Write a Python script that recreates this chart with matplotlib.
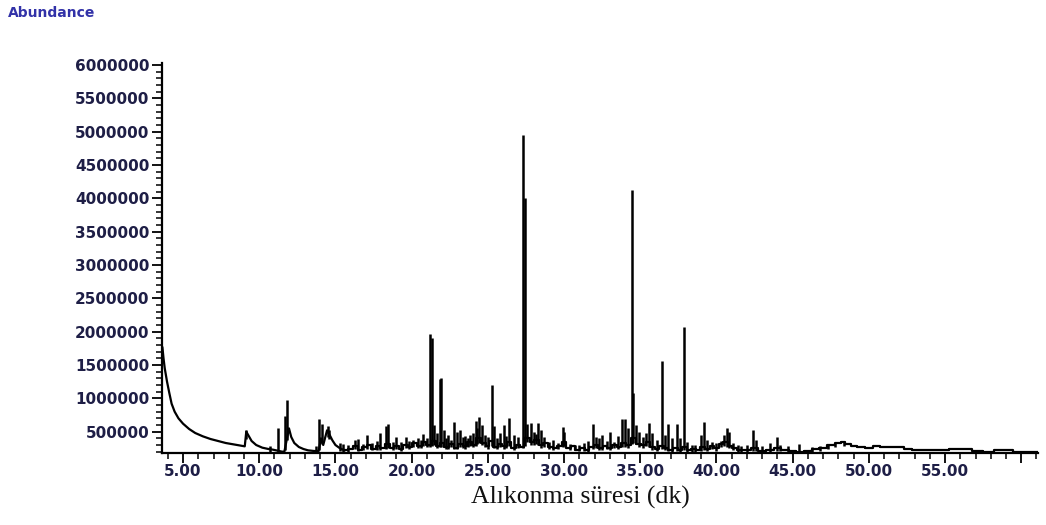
import numpy as np
import matplotlib
matplotlib.use("Agg")
import matplotlib.pyplot as plt
from matplotlib.ticker import MultipleLocator, FuncFormatter

# Background trace of the total ion chromatogram (retention time in min, abundance in millions)
base_t = [3.65, 3.72, 3.80, 3.95, 4.10, 4.25, 4.45, 4.70, 5.00, 5.40, 5.80, 6.30, 6.80,
          7.30, 7.80, 8.30, 8.80, 9.05, 9.15, 9.30, 9.50, 9.80, 10.20, 10.60, 10.90,
          11.10, 11.50, 11.65, 11.95, 12.10, 12.30, 12.60, 12.90, 13.20, 13.60, 13.90,
          14.05, 14.20, 14.45, 14.60, 14.80, 15.00, 15.30, 15.60, 16.00, 16.30, 16.60,
          16.90, 17.20, 17.50, 17.80, 18.10, 18.40, 18.70, 19.00, 19.30, 19.60, 19.90,
          20.20, 20.50, 20.80, 21.10, 21.50, 21.70, 22.00, 22.30, 22.60, 22.90, 23.20,
          23.50, 23.80, 24.10, 24.40, 24.70, 25.00, 25.20, 25.50, 25.80, 26.10, 26.40,
          26.70, 27.00, 27.20, 27.60, 27.90, 28.20, 28.50, 28.80, 29.10, 29.40, 29.70,
          30.00, 30.30, 30.60, 30.90, 31.20, 31.50, 31.80, 32.10, 32.40, 32.70, 33.00,
          33.30, 33.60, 33.90, 34.20, 34.60, 34.90, 35.20, 35.50, 35.80, 36.10, 36.40,
          36.70, 37.00, 37.30, 37.60, 37.90, 38.20, 38.50, 38.80, 39.10, 39.40, 39.70,
          40.00, 40.30, 40.60, 40.90, 41.20, 41.50, 42.00, 42.50, 43.00, 43.50, 44.00,
          44.50, 45.00, 45.50, 46.00, 46.50, 47.00, 47.50, 48.00, 48.30, 48.60, 49.00,
          49.50, 50.00, 50.50, 51.00, 52.00, 52.60, 53.00, 54.00, 55.00, 55.50, 56.50,
          57.00, 58.00, 58.40, 59.30, 59.60, 61.10]
base_y = [1.76, 1.60, 1.45, 1.25, 1.08, 0.92, 0.80, 0.70, 0.62, 0.54, 0.48, 0.43, 0.39,
          0.36, 0.33, 0.31, 0.29, 0.28, 0.50, 0.44, 0.36, 0.30, 0.26, 0.24, 0.23,
          0.22, 0.20, 0.20, 0.55, 0.42, 0.33, 0.27, 0.24, 0.22, 0.21, 0.21,
          0.40, 0.30, 0.52, 0.46, 0.37, 0.30, 0.25, 0.22, 0.24, 0.28, 0.23,
          0.27, 0.30, 0.24, 0.28, 0.25, 0.31, 0.26, 0.29, 0.24, 0.30, 0.27,
          0.33, 0.28, 0.34, 0.30, 0.36, 0.29, 0.33, 0.27, 0.31, 0.26, 0.32,
          0.28, 0.34, 0.30, 0.40, 0.33, 0.29, 0.36, 0.27, 0.32, 0.28, 0.34,
          0.26, 0.30, 0.27, 0.40, 0.34, 0.38, 0.30, 0.33, 0.27, 0.25, 0.29,
          0.34, 0.25, 0.28, 0.23, 0.26, 0.22, 0.27, 0.30, 0.25, 0.29, 0.26,
          0.30, 0.27, 0.33, 0.30, 0.40, 0.32, 0.30, 0.35, 0.27, 0.24, 0.28,
          0.25, 0.22, 0.26, 0.23, 0.27, 0.22, 0.24, 0.22, 0.27, 0.24, 0.29,
          0.25, 0.31, 0.34, 0.29, 0.25, 0.22, 0.23, 0.25, 0.21, 0.23, 0.25,
          0.23, 0.21, 0.20, 0.21, 0.24, 0.26, 0.30, 0.33, 0.35, 0.31, 0.29,
          0.27, 0.26, 0.28, 0.27, 0.27, 0.24, 0.23, 0.22, 0.22, 0.24, 0.24,
          0.21, 0.20, 0.22, 0.22, 0.19, 0.19]

# Individual peaks: apex retention time (min) and apex abundance (millions)
peak_t = [9.13, 10.70, 11.20, 11.70, 11.85, 13.70, 13.95, 14.10, 14.50, 14.60, 15.30,
          15.50, 15.80, 16.30, 16.50, 16.80, 17.10, 17.40, 17.70, 17.90, 18.30, 18.45,
          18.80, 19.00, 19.30, 19.60, 19.85, 20.10, 20.40, 20.60, 20.75, 21.00, 21.20,
          21.35, 21.50, 21.65, 21.85, 21.95, 22.10, 22.25, 22.40, 22.60, 22.80, 23.00,
          23.20, 23.35, 23.50, 23.70, 23.85, 24.00, 24.20, 24.30, 24.45, 24.60, 24.80,
          25.00, 25.30, 25.40, 25.60, 25.80, 26.05, 26.20, 26.40, 26.70, 27.00, 27.30,
          27.42, 27.60, 27.80, 28.00, 28.15, 28.30, 28.50, 28.70, 29.00, 29.30, 29.60,
          29.90, 30.00, 30.40, 30.70, 31.00, 31.30, 31.60, 31.90, 32.10, 32.30, 32.50,
          32.80, 33.00, 33.30, 33.55, 33.80, 34.00, 34.20, 34.46, 34.55, 34.70, 34.90,
          35.20, 35.40, 35.60, 35.80, 36.10, 36.40, 36.60, 36.80, 37.10, 37.40, 37.60,
          37.85, 38.10, 38.40, 38.60, 39.00, 39.20, 39.40, 39.70, 40.00, 40.30, 40.50,
          40.70, 40.85, 41.10, 41.40, 41.60, 42.00, 42.40, 42.60, 43.00, 43.50, 44.00,
          44.20, 44.70, 45.40, 46.30, 46.80, 47.30, 47.80, 48.40]
peak_h = [0.52, 0.28, 0.56, 0.73, 0.98, 0.28, 0.69, 0.61, 0.58, 0.53, 0.33,
          0.32, 0.30, 0.38, 0.39, 0.32, 0.45, 0.33, 0.36, 0.48, 0.58, 0.61,
          0.35, 0.42, 0.34, 0.42, 0.36, 0.37, 0.40, 0.38, 0.46, 0.40, 1.97,
          1.90, 0.60, 0.48, 1.29, 1.30, 0.52, 0.40, 0.45, 0.38, 0.64, 0.50,
          0.52, 0.42, 0.44, 0.40, 0.45, 0.48, 0.66, 0.55, 0.72, 0.60, 0.45,
          0.42, 1.20, 0.58, 0.40, 0.48, 0.60, 0.44, 0.70, 0.45, 0.42, 4.95,
          4.00, 0.62, 0.63, 0.50, 0.46, 0.63, 0.52, 0.42, 0.35, 0.38, 0.33,
          0.57, 0.50, 0.32, 0.30, 0.30, 0.33, 0.36, 0.61, 0.42, 0.40, 0.45,
          0.36, 0.50, 0.35, 0.44, 0.69, 0.69, 0.55, 4.12, 1.08, 0.60, 0.50,
          0.42, 0.48, 0.63, 0.48, 0.38, 1.56, 0.45, 0.62, 0.40, 0.62, 0.40,
          2.07, 0.35, 0.30, 0.30, 0.45, 0.65, 0.38, 0.35, 0.33, 0.36, 0.45,
          0.55, 0.50, 0.33, 0.30, 0.28, 0.30, 0.52, 0.38, 0.28, 0.33, 0.42,
          0.30, 0.28, 0.32, 0.27, 0.28, 0.30, 0.33, 0.36]

y_ticks = [500000, 1000000, 1500000, 2000000, 2500000, 3000000,
           3500000, 4000000, 4500000, 5000000, 5500000, 6000000]
x_ticks = [5, 10, 15, 20, 25, 30, 35, 40, 45, 50, 55]

SCALE = 1e6
tick_color = "#1e1e46"
SMOOTH_END = 15.6   # solvent tail and early peaks are drawn as a smooth line

fig = plt.figure(figsize=(10.46, 5.25), dpi=100)
ax = fig.add_axes([162 / 1046, 1 - 453 / 525, 876 / 1046, 390 / 525])

bt = np.array(base_t)
by = np.array(base_y) * SCALE
pt = np.array(peak_t)
ph = np.array(peak_h) * SCALE
foot = np.interp(pt, bt, by)

early = bt <= SMOOTH_END
late = bt >= SMOOTH_END
ax.plot(bt[early], by[early], color="black", lw=1.6)
ax.plot(bt[late], by[late], color="black", lw=1.6, drawstyle="steps-mid")
ax.vlines(pt, foot * 0.85, ph, color="black", lw=1.8)

ax.set_xlim(3.62, 61.1)
ax.set_ylim(180000, 6030000)

for side in ("top", "right"):
    ax.spines[side].set_visible(False)
for side in ("left", "bottom"):
    ax.spines[side].set_linewidth(1.6)
    ax.spines[side].set_color("black")

ax.xaxis.set_major_locator(plt.FixedLocator([5, 10, 15, 20, 25, 30, 35, 40, 45, 50, 55, 60]))
ax.xaxis.set_minor_locator(MultipleLocator(1))
ax.xaxis.set_major_formatter(FuncFormatter(lambda v, p: f"{v:.2f}" if v in x_ticks else ""))
ax.yaxis.set_major_locator(plt.FixedLocator(y_ticks))
ax.yaxis.set_minor_locator(MultipleLocator(100000))
ax.yaxis.set_major_formatter(FuncFormatter(lambda v, p: f"{int(round(v))}"))

ax.tick_params(axis="both", which="major", direction="out", length=7, width=1.3,
               colors="black", labelcolor=tick_color)
ax.tick_params(axis="both", which="minor", direction="out", length=4, width=1.1,
               colors="black")
ax.tick_params(axis="x", which="major", pad=1)
ax.tick_params(axis="y", which="major", pad=2)
for lab in ax.get_xticklabels() + ax.get_yticklabels():
    lab.set_fontfamily("DejaVu Sans")
    lab.set_fontweight("bold")
    lab.set_fontsize(11)

fig.text(8 / 1046, 1 - 13 / 525, "Abundance", color="#3232a8", fontsize=10,
         fontweight="bold", family="DejaVu Sans", ha="left", va="center")
fig.text(580 / 1046, 1 - 497 / 525, "Alıkonma süresi (dk)", color="#111111",
         fontsize=18.5, family="Liberation Serif", ha="center", va="center")

fig.savefig("out.png", dpi=100)
